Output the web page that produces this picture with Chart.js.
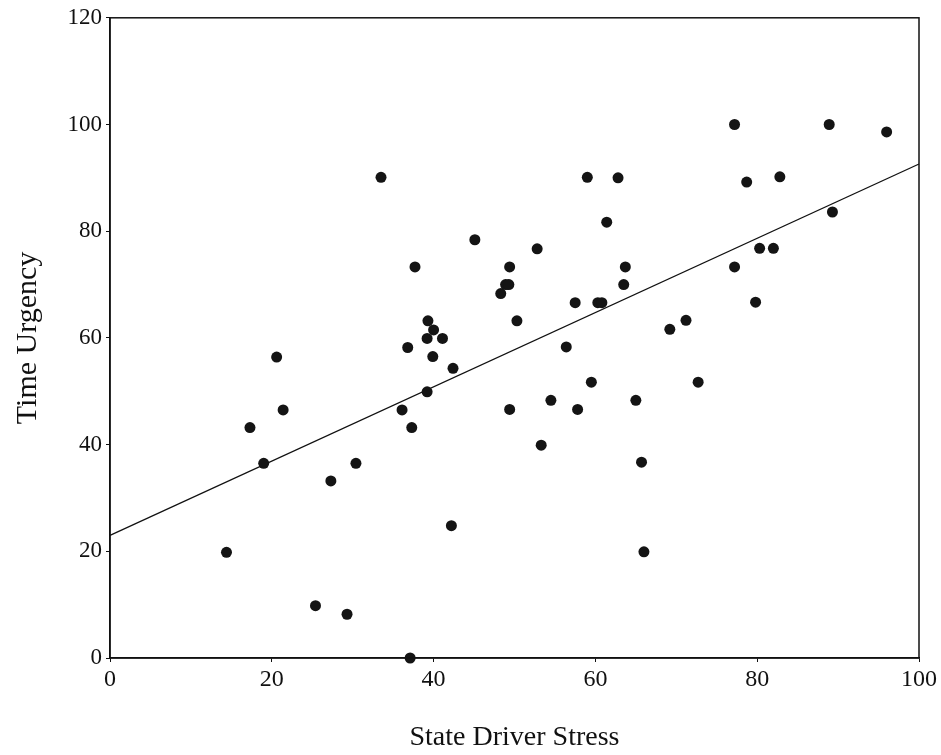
<!DOCTYPE html>
<html>
<head>
<meta charset="utf-8">
<script src="https://cdn.jsdelivr.net/npm/chart.js"></script>
<style>
  html, body { margin: 0; padding: 0; background: #fff; }
  #wrap { width: 941px; height: 755px; }
</style>
</head>
<body>
<div id="wrap"><canvas id="myChart"></canvas></div>
<script>
// State Driver Stress (x) vs Time Urgency (y)
const stress = [
  14.4, 17.3, 19.0, 20.6, 21.4, 25.4, 27.3, 29.3, 30.4, 33.5,
  36.1, 36.8, 37.1, 37.3, 37.7, 39.2, 39.2, 39.3, 39.9, 40.0,
  41.1, 42.2, 42.4, 45.1, 48.3, 48.9, 49.3, 49.4, 49.4, 50.3,
  52.8, 53.3, 54.5, 56.4, 57.5, 57.8, 59.0, 59.5, 60.3, 60.8,
  61.4, 62.8, 63.5, 63.7, 65.0, 65.7, 66.0, 69.2, 71.2, 72.7,
  77.2, 77.2, 78.7, 79.8, 80.3, 82.0, 82.8, 88.9, 89.3, 96.0
];
const urgency = [
  19.8, 43.2, 36.5, 56.4, 46.5, 9.8, 33.2, 8.2, 36.5, 90.1,
  46.5, 58.2, 0, 43.2, 73.3, 49.9, 59.9, 63.2, 56.5, 61.5,
  59.9, 24.8, 54.3, 78.4, 68.3, 70.0, 70.0, 73.3, 46.6, 63.2,
  76.7, 39.9, 48.3, 58.3, 66.6, 46.6, 90.1, 51.7, 66.6, 66.6,
  81.7, 90.0, 70.0, 73.3, 48.3, 36.7, 19.9, 61.6, 63.3, 51.7,
  100, 73.3, 89.2, 66.7, 76.8, 76.8, 90.2, 100, 83.6, 98.6
];
// fitted line ends
const fitX = [0, 100];
const fitY = [23.0, 92.6];

const xTicks = [0, 20, 40, 60, 80, 100];
const yTicks = [0, 20, 40, 60, 80, 100, 120];

const points = stress.map((x, i) => ({x: x, y: urgency[i]}));
const line = fitX.map((x, i) => ({x: x, y: fitY[i]}));

const serif = "'Liberation Serif', 'DejaVu Serif', serif";

// box around the plot area
const frame = {
  id: 'frame',
  afterDraw(chart) {
    const a = chart.chartArea, ctx = chart.ctx;
    ctx.save();
    ctx.strokeStyle = '#111';
    ctx.lineWidth = 1.5;
    ctx.strokeRect(a.left, a.top, a.right - a.left, a.bottom - a.top);
    ctx.restore();
  }
};

const config = {
  type: 'scatter',
  data: {
    datasets: [{
      label: 'points',
      data: points,
      backgroundColor: '#141414',
      borderWidth: 0,
      pointRadius: 5.5,
      pointHoverRadius: 5.5
    }, {
      type: 'line',
      label: 'fit',
      data: line,
      borderColor: '#111',
      borderWidth: 1.3,
      pointRadius: 0,
      fill: false
    }]
  },
  options: {
    responsive: false,
    animation: false,
    clip: false,
    layout: { padding: { top: 13, right: 22, left: 0, bottom: 0 } },
    plugins: { legend: { display: false }, tooltip: { enabled: false } },
    scales: {
      x: {
        type: 'linear', min: 0, max: 100,
        afterBuildTicks: s => { s.ticks = xTicks.map(v => ({value: v})); },
        afterFit: s => { s.height = 97; },
        grid: { drawOnChartArea: false, drawTicks: true, tickLength: 4, color: '#111' },
        border: { display: true, color: '#111', width: 1.5 },
        ticks: { color: '#111', font: { family: serif, size: 24 }, padding: 3, maxRotation: 0 },
        title: { display: true, text: 'State Driver Stress', color: '#111',
                 font: { family: serif, size: 28 }, padding: { top: 30, bottom: 1 } }
      },
      y: {
        type: 'linear', min: 0, max: 120,
        afterBuildTicks: s => { s.ticks = yTicks.map(v => ({value: v})); },
        afterFit: s => { s.width = 110; },
        grid: { drawOnChartArea: false, drawTicks: true, tickLength: 4, color: '#111' },
        border: { display: true, color: '#111', width: 1.5 },
        ticks: { color: '#111', font: { family: serif, size: 23 }, padding: 4 },
        title: { display: true, text: 'Time Urgency', color: '#111',
                 font: { family: serif, size: 30 }, padding: { top: 10, bottom: 10 } }
      }
    }
  },
  plugins: [frame]
};

const c = document.getElementById('myChart');
c.width = 941; c.height = 755;
new Chart(c, config);
</script>
</body>
</html>
